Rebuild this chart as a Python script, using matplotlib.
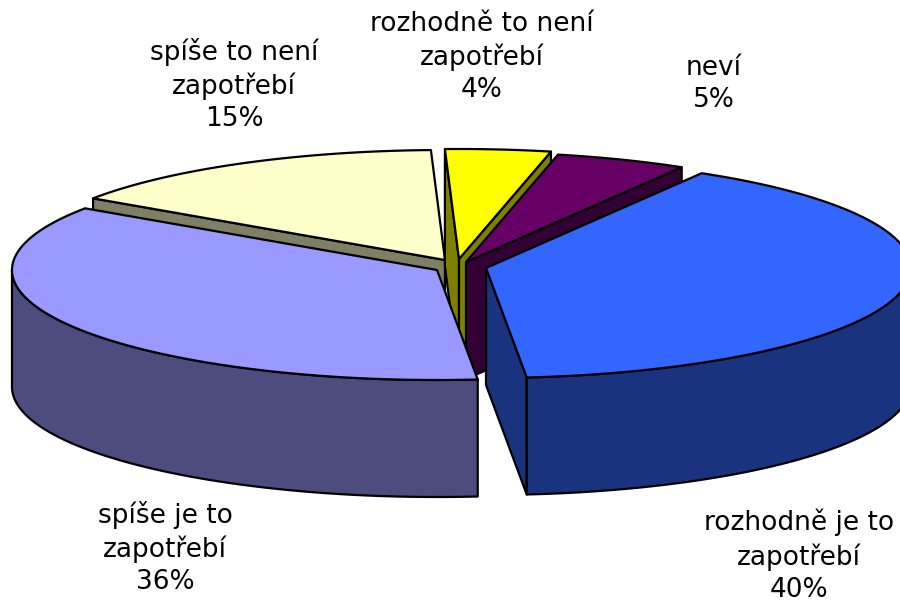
import numpy as np
import matplotlib
matplotlib.use('Agg')
import matplotlib.pyplot as plt
from matplotlib.patches import Polygon

# data
labels = ['rozhodně je to\nzapotřebí\n40%', 'neví\n5%', 'rozhodně to není\nzapotřebí\n4%',
          'spíše to není\nzapotřebí\n15%', 'spíše je to\nzapotřebí\n36%']
values = [40, 5, 4, 15, 36]
top_colors = ['#3366FF', '#660066', '#FFFF00', '#FFFFCC', '#9999FF']
side_colors = ['#1A337F', '#330033', '#7F7F00', '#7F7F66', '#4C4C7F']

# geometry in pixels
apex = [(486, 268), (466, 262), (459, 259), (445, 260), (437, 270)]
label_pos = [(799, 556), (714, 84), (482, 57), (234, 85), (165, 548)]
rx, ry, depth = 425, 110, 117
start = -84.5
draw_order = [3, 2, 1, 4, 0]

fig = plt.figure(figsize=(9, 6.03), dpi=100)
ax = fig.add_axes([0, 0, 1, 1])
ax.set_xlim(0, 900)
ax.set_ylim(603, 0)
ax.axis('off')

# wedge angles from the values, counter-clockwise from start
edges = start + np.cumsum([0] + values) * 3.6


def pt(i, t):
    r = np.radians(t)
    return apex[i][0] + rx * np.cos(r), apex[i][1] - ry * np.sin(r)


def poly(points, color):
    ax.add_patch(Polygon(points, closed=True, facecolor=color, edgecolor='black',
                         linewidth=1.6, joinstyle='round'))


for i in draw_order:
    t0, t1 = edges[i], edges[i + 1]
    ax_pt = apex[i]
    p0, p1 = pt(i, t0), pt(i, t1)
    down = lambda p: (p[0], p[1] + depth)
    # cut faces, only those turned towards the viewer
    if np.sin(np.radians(t1 + 90)) < 0:
        poly([ax_pt, p1, down(p1), down(ax_pt)], side_colors[i])
    if np.sin(np.radians(t0 - 90)) < 0:
        poly([ax_pt, p0, down(p0), down(ax_pt)], side_colors[i])
    # outer rim, only the part facing the viewer
    for a, b in [(t0, t1), (t0 - 360, t1 - 360)]:
        lo, hi = max(a, -180), min(b, 0)
        if lo < hi:
            ts = np.linspace(lo, hi, 80)
            arc = [pt(i, t) for t in ts]
            poly(arc + [down(p) for p in arc[::-1]], side_colors[i])
    # top face
    ts = np.linspace(t0, t1, 120)
    poly([ax_pt] + [pt(i, t) for t in ts], top_colors[i])

for lab, (x, y) in zip(labels, label_pos):
    ax.text(x, y, lab, ha='center', va='center', fontsize=19, family='DejaVu Sans',
            linespacing=1.32, color='black')

fig.savefig('out.png', dpi=100)
